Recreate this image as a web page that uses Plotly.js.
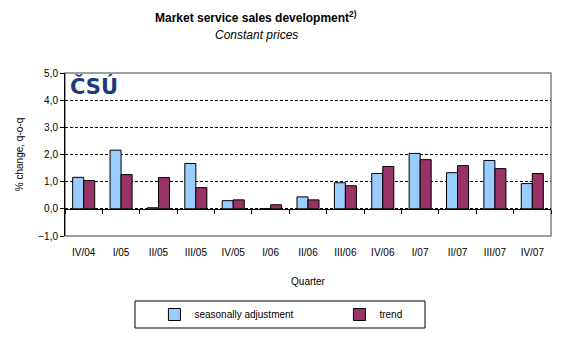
<!DOCTYPE html>
<html><head><meta charset="utf-8">
<script src="https://cdn.plot.ly/plotly-3.0.1.min.js"></script>
<style>body{margin:0;background:#fff}#c{width:582px;height:353px}</style>
</head><body><div id="c"></div>
<script>
const quarters = ['IV/04','I/05','II/05','III/05','IV/05','I/06','II/06','III/06','IV/06','I/07','II/07','III/07','IV/07'];
const seasonallyAdjusted = [1.16, 2.16, 0.04, 1.67, 0.30, 0.00, 0.44, 0.96, 1.30, 2.04, 1.33, 1.78, 0.93];
const trend = [1.04, 1.26, 1.15, 0.78, 0.33, 0.15, 0.33, 0.85, 1.56, 1.81, 1.59, 1.48, 1.30];
const yTicks = [-1, 0, 1, 2, 3, 4, 5];

const F = 'Liberation Sans, Arial, sans-serif';
const traces = [
  {type:'bar', name:'seasonally adjustment', x:quarters, y:seasonallyAdjusted,
   marker:{color:'#99CCFF', line:{color:'#000', width:1}}, hoverinfo:'skip'},
  {type:'bar', name:'trend', x:quarters, y:trend,
   marker:{color:'#993366', line:{color:'#000', width:1}}, hoverinfo:'skip'},
  {type:'scatter', mode:'none', x:quarters, y:trend, xaxis:'x2', yaxis:'y',
   showlegend:false, hoverinfo:'skip'}
];
const layout = {
  width:582, height:353, margin:{l:65, r:31, t:73, b:117},
  paper_bgcolor:'#fff', plot_bgcolor:'#fff',
  separators:', ',
  font:{family:F, size:10, color:'#000'},
  barmode:'group', bargap:0.41, bargroupgap:0,
  showlegend:true,
  legend:{orientation:'h', x:0.184, y:(236-314.5)/163, xanchor:'left', yanchor:'middle',
    entrywidth:140, entrywidthmode:'pixels', font:{family:F, size:10}, borderwidth:0,
    itemwidth:30, tracegroupgap:0, bgcolor:'rgba(0,0,0,0)'},
  xaxis:{type:'category', categoryorder:'array', categoryarray:quarters,
    showline:false, ticks:'', showgrid:false, zeroline:false,
    tickfont:{family:F, size:10}, ticklabelstandoff:9,
    title:{text:'Quarter', font:{family:F, size:10}, standoff:20}},
  xaxis2:{type:'category', matches:'x', overlaying:'x', anchor:'free', position:1/6,
    showline:true, linecolor:'#000', linewidth:1, ticks:'outside', ticklen:4,
    tickcolor:'#000', tickson:'boundaries', showticklabels:false, showgrid:false, zeroline:false},
  yaxis:{range:[-1,5], tickvals:yTicks, tickformat:'.1f', showline:true, linecolor:'#000',
    linewidth:1, ticks:'outside', ticklen:4, tickcolor:'#000',
    showgrid:true, gridcolor:'#000', griddash:'3px,2px', gridwidth:1,
    zeroline:false, tickfont:{family:F, size:10},
    title:{text:'% change, q-o-q', font:{family:F, size:10}, standoff:12}},
  shapes:[
    {type:'rect', xref:'paper', yref:'paper', x0:0, x1:1, y0:0, y1:1,
     line:{color:'#808080', width:1.5}, layer:'below'},
    {type:'rect', xref:'paper', yref:'paper', x0:70/486, x1:360/486, y0:(236-328)/163, y1:(236-301)/163,
     line:{color:'#000', width:1}, fillcolor:'rgba(0,0,0,0)'}
  ],
  annotations:[
    {xref:'paper', yref:'paper', x:(256-65)/486, y:(236-17)/163, xanchor:'center', yanchor:'middle',
     text:'<b>Market service sales development<sup>2)</sup></b>', showarrow:false,
     font:{family:F, size:12, color:'#000'}},
    {xref:'paper', yref:'paper', x:(256-65)/486, y:(236-35)/163, xanchor:'center', yanchor:'middle',
     text:'<i>Constant prices</i>', showarrow:false, font:{family:F, size:12, color:'#000'}},
    {xref:'paper', yref:'paper', x:3/486, y:1.005, xanchor:'left', yanchor:'top',
     text:'<b>ČSÚ</b>', showarrow:false, font:{family:'DejaVu Sans', size:21, color:'#1B3A7A'}}
  ]
};
Plotly.newPlot('c', traces, layout, {staticPlot:true, displayModeBar:false});
</script></body></html>
